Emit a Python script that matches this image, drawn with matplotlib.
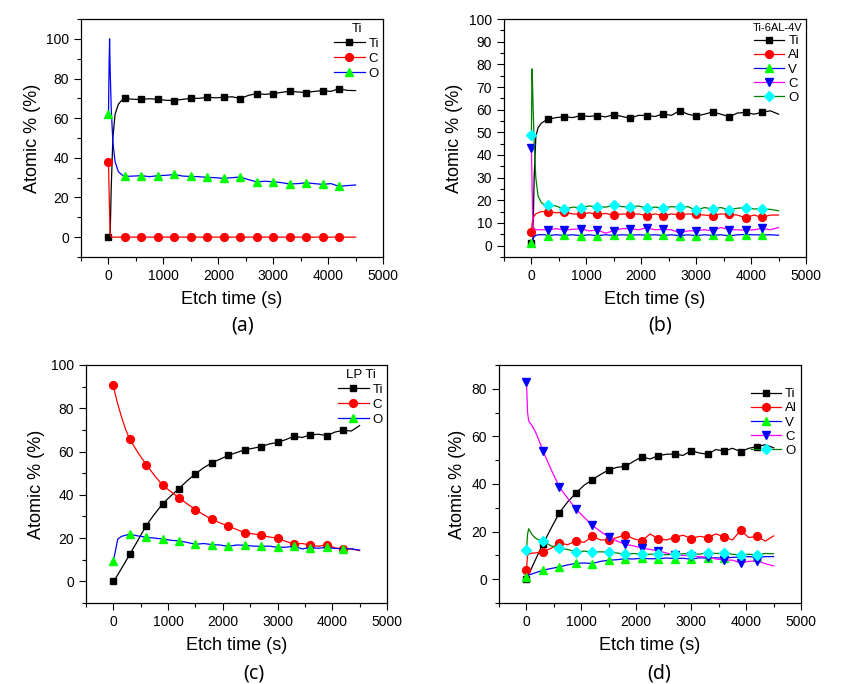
import matplotlib.pyplot as plt
from matplotlib.ticker import MultipleLocator

plt.rcParams['font.family'] = ['Liberation Sans', 'DejaVu Sans']

# common tail of the etch-time grid (s)
t_tail = list(range(300, 4501, 150))

# ---- (a) Ti ----
t_a = [0, 10, 20, 30, 50, 80, 120, 180, 240] + t_tail
ti_a = [0, 0, 0, 0, 25, 50, 62, 67, 69,
        70, 69.5, 69.5, 69.8, 69.5, 69, 68.9, 69.5, 70, 70, 70.5, 70.3, 70.5, 70.8, 69.9,
        71.5, 72.4, 72, 72.4, 73, 73.6, 73.2, 72.9, 73.5, 73.9, 73.5, 74.9, 74, 73.9]
c_a = [38, 25, 12, 2, 0, 0, 0, 0, 0,
       0, 0, 0, 0, 0, 0, 0, 0, 0, 0, 0, 0, 0, 0, 0,
       0, 0, 0, 0, 0, 0, 0, 0, 0, 0, 0, 0, 0, 0]
o_a = [62, 85, 100, 85, 65, 48, 38, 33, 31.5,
       30.6, 30.8, 31, 30.5, 31, 31.2, 31.6, 30.8, 30.6, 30.5, 30.1, 30, 29.6, 30, 30.3,
       29, 27.9, 28.2, 27.9, 27.5, 26.8, 27, 27.4, 27, 26.6, 27, 25.6, 26, 26.3]

# ---- (b) Ti-6AL-4V ----
t_b = [0, 10, 20, 30, 50, 80, 120, 180, 240] + t_tail
ti_b = [1, 1, 1, 5, 30, 48, 52, 54, 55,
        55.7, 56.5, 56.9, 56.5, 57.4, 57, 57.4, 56.8, 57.8, 57, 56.2, 57.5, 57.4, 57, 58.1,
        57.5, 59.6, 58, 57.2, 58, 59, 58, 56.9, 58.5, 58.8, 58, 58.8, 59.5, 58]
al_b = [6, 9, 11, 12, 13, 14, 14.5, 15, 15,
        15, 14.5, 14.8, 14, 13.8, 14.5, 13.8, 14.2, 13.5, 14, 13.8, 14, 13.2, 14, 13.2,
        14, 13.5, 14, 13.8, 13.5, 13.2, 14, 13.8, 13.5, 12.3, 13.5, 12.5, 13.5, 13.5]
v_b = [1, 1, 2, 3, 4, 4.5, 4.8, 4.8, 4.8,
       4.4, 4.8, 4.5, 4.8, 4.4, 4.8, 4.4, 4.8, 4.5, 4.8, 4.6, 4.8, 4.6, 4.8, 4.5,
       4.8, 4.4, 4.8, 4.4, 4.8, 4.5, 4.8, 4.3, 4.8, 4.9, 4.8, 4.7, 4.8, 4.6]
c_b = [43, 30, 15, 9, 7.5, 7, 7, 7, 7,
       6.9, 7.5, 6.9, 7.2, 7.5, 6.5, 6.9, 5.5, 6.6, 7.5, 7.5, 7, 7.9, 7, 7.2,
       7, 5.6, 6.5, 6.6, 7, 6.6, 8, 7.1, 7, 6.8, 7, 7.6, 7, 8]
o_b = [49, 78, 72, 62, 45, 30, 22, 19, 18,
       17.9, 17.5, 16, 17, 16.8, 17.5, 17.1, 17, 17.8, 17.2, 17.1, 17.5, 16.6, 17, 16.6,
       17.2, 16.9, 17.2, 15.7, 16.8, 16.2, 16.8, 15.9, 16.5, 16.8, 16.2, 16.2, 16, 15.4]

# ---- (c) LP Ti ----
t_c = [0, 30, 80, 150, 220] + t_tail
ti_c = [0, 1, 3, 6, 9,
        12.5, 19, 25.8, 31, 35.8, 39.5, 42.9, 46.5, 49.7, 52.5, 54.8, 56.5, 58.2, 59.5, 60.8,
        61.5, 62.3, 63.5, 64.2, 65.5, 67, 66.5, 67.7, 68, 67.4, 69, 69.8, 69.5, 72]
c_c = [90.6, 87, 82, 76, 70.5,
       65.7, 59.5, 54, 49, 44.4, 41.5, 38.6, 35.8, 33.2, 30.8, 28.7, 27, 25.6, 24, 22.5,
       22, 21.3, 20.5, 20, 18.5, 17.3, 17.5, 16.8, 16.2, 17, 15.5, 15, 15, 14.2]
o_c = [9.6, 13, 19.5, 20.8, 21.3,
       21.8, 21, 20.4, 20, 19.6, 19, 18.7, 18, 17.1, 17.5, 17, 16.8, 16.2, 16.8, 16.7,
       16.3, 16.2, 16.3, 15.7, 15.8, 16.2, 15, 15.6, 15.3, 15.7, 15.2, 15.1, 15, 14.5]

# ---- (d) LP Ti-6AL-4V ----
t_d = [0, 20, 40, 70, 100, 150, 200, 250] + t_tail
ti_d = [0, 1, 2, 3.5, 5, 7.5, 10, 12.5,
        14.7, 21.5, 27.9, 32.5, 36.2, 39.5, 41.8, 44, 46, 47, 47.4, 49.5, 51.4, 50.5, 51.9,
        52.5, 52.6, 52, 54, 53, 52.5, 54.5, 53.8, 55, 53.6, 55, 55.7, 56.5, 55.2]
al_d = [3.9, 10, 10.5, 10.8, 11, 11, 11.2, 11.3,
        11.5, 13, 15.2, 14.5, 16.1, 15.5, 18, 16.5, 16.6, 17.5, 18.7, 17, 16.1, 19, 17,
        16.5, 17.5, 18.5, 17.1, 18, 17.5, 19, 17.8, 16.5, 20.5, 17.5, 18, 16, 18.2]
v_d = [1, 1.5, 1.8, 2, 2.2, 2.6, 3, 3.4,
       3.8, 4.5, 5.2, 6, 6.7, 6.8, 6.6, 7.5, 8, 8.2, 8.6, 8.5, 8.8, 8.6, 8.6,
       8.9, 8.7, 8.8, 8.4, 9, 8.8, 9, 8.8, 9.2, 9.3, 9.5, 9.2, 9.5, 9.5]
c_d = [82.8, 70, 66.5, 65.5, 64.5, 62.5, 60, 57,
       53.9, 46, 38.7, 34, 29.5, 26, 22.6, 20, 17.8, 16, 14.7, 14, 13.1, 12.5, 11.9,
       11, 10.2, 10, 9.8, 9.5, 9.3, 8.5, 8.1, 8, 6.9, 7.5, 7.7, 6.5, 5.6]
o_d = [12.1, 19, 21.2, 20, 18.8, 17.5, 16.8, 16.3,
       16, 14, 13, 12.5, 11.5, 11.8, 11.4, 11.5, 11.4, 11, 10.5, 10.8, 10.5, 10.5, 10.5,
       10.3, 10.5, 10.7, 10.8, 10.5, 11.2, 10.8, 10.9, 10.5, 10.2, 10.5, 10.2, 10.8, 10.7]

# Origin-like styles: (line color, marker, marker color, marker size)
sty_ti = ('black', 's', 'black', 5)
sty_2 = ('red', 'o', 'red', 5.6)
sty_3 = ('blue', '^', '#00ff00', 6.2)
sty_4 = ('#ff00ff', 'v', '#0000ff', 6.2)
sty_5 = ('#008000', 'D', '#00ffff', 4.6)


def draw(ax, t, series, ylim, ymaj, ymin, title, anchor, title_fs, spacing):
    marks = [i for i, v in enumerate(t) if v % 300 == 0 and v <= 4200]
    for label, vals, (lc, mk, mc, ms) in series:
        ax.plot(t, vals, color=lc, lw=0.9, marker=mk, mfc=mc, mec=mc, ms=ms,
                markevery=marks, label=label)
    ax.set_xlim(-500, 5000)
    ax.set_ylim(*ylim)
    ax.xaxis.set_major_locator(MultipleLocator(1000))
    ax.xaxis.set_minor_locator(MultipleLocator(500))
    ax.yaxis.set_major_locator(MultipleLocator(ymaj))
    ax.yaxis.set_minor_locator(MultipleLocator(ymin))
    ax.tick_params(which='major', direction='out', length=5, width=0.8, labelsize=10,
                   top=False, right=False)
    ax.tick_params(which='minor', direction='out', length=3, width=0.8,
                   top=False, right=False)
    for s in ax.spines.values():
        s.set_linewidth(0.9)
    ax.set_xlabel('Etch time (s)', fontsize=13, labelpad=6)
    ax.set_ylabel('Atomic % (%)', fontsize=13, labelpad=4)
    ax.legend(loc='upper right', bbox_to_anchor=anchor, frameon=False,
              fontsize=9.5, handlelength=2.3, handletextpad=0.3,
              labelspacing=spacing, borderpad=0.1, borderaxespad=0.2,
              title=title, title_fontsize=title_fs)


fig = plt.figure(figsize=(8.52, 6.84), dpi=100)
ax_a = fig.add_axes([0.0951, 0.6243, 0.3545, 0.3479])
ax_b = fig.add_axes([0.5915, 0.6243, 0.3545, 0.3479])
ax_c = fig.add_axes([0.1009, 0.1184, 0.3533, 0.3480])
ax_d = fig.add_axes([0.5857, 0.1184, 0.3545, 0.3480])

draw(ax_a, t_a, [('Ti', ti_a, sty_ti), ('C', c_a, sty_2), ('O', o_a, sty_3)],
     (-10, 110), 20, 10, 'Ti', (1.0, 1.0), 9.5, 0.2)
draw(ax_b, t_b, [('Ti', ti_b, sty_ti), ('Al', al_b, sty_2), ('V', v_b, sty_3),
                 ('C', c_b, sty_4), ('O', o_b, sty_5)],
     (-5, 100), 10, 5, 'Ti-6AL-4V', (1.0, 1.0), 8, 0.15)
draw(ax_c, t_c, [('Ti', ti_c, sty_ti), ('C', c_c, sty_2), ('O', o_c, sty_3)],
     (-10, 100), 20, 10, 'LP Ti', (1.0, 1.0), 9.5, 0.2)
draw(ax_d, t_d, [('Ti', ti_d, sty_ti), ('Al', al_d, sty_2), ('V', v_d, sty_3),
                 ('C', c_d, sty_4), ('O', o_d, sty_5)],
     (-10, 90), 20, 10, None, (1.0, 0.92), 9.5, 0.15)

cap = dict(fontsize=14, family=['Noto Sans', 'DejaVu Sans'], ha='center', va='center')
fig.text(243 / 852, 1 - 326 / 684, '(a)', **cap)
fig.text(660 / 852, 1 - 326 / 684, '(b)', **cap)
fig.text(254 / 852, 1 - 673 / 684, '(c)', **cap)
fig.text(659 / 852, 1 - 673 / 684, '(d)', **cap)

fig.savefig('out.png', dpi=100)
